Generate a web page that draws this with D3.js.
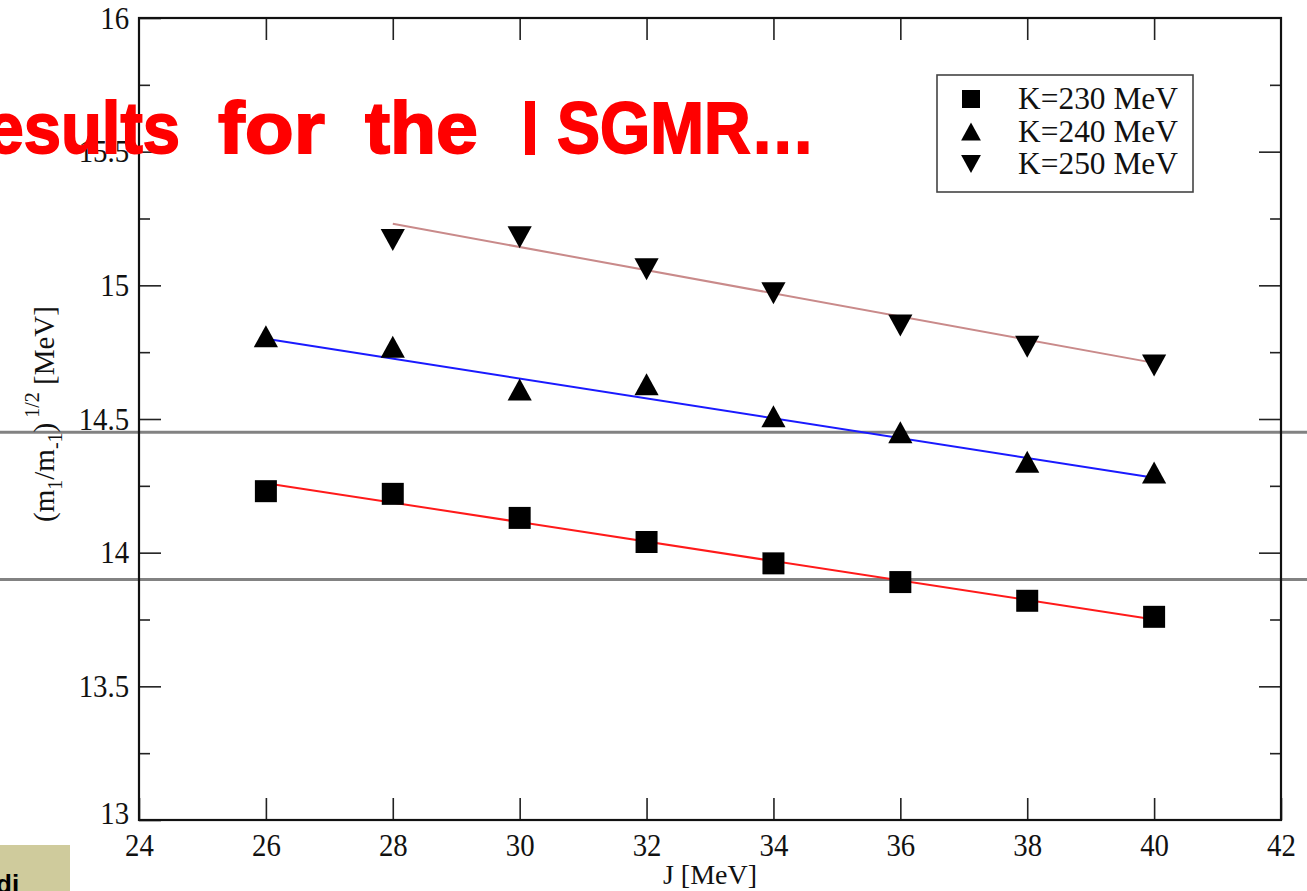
<!DOCTYPE html>
<html>
<head>
<meta charset="utf-8">
<script src="https://cdn.jsdelivr.net/npm/d3@7"></script>
<style>
  html, body { margin: 0; padding: 0; background: #fff; }
  svg { display: block; }
  .tick text { font-family: "Liberation Serif", "Times New Roman", serif; fill: #111; }
</style>
</head>
<body>
<svg id="chart" width="1307" height="891"></svg>
<script>
// Incompressibility scan: centroid energy vs symmetry energy J
const jValues = [26, 28, 30, 32, 34, 36, 38, 40];
const jValues250 = [28, 30, 32, 34, 36, 38, 40];
const k230 = [14.23, 14.22, 14.13, 14.04, 13.96, 13.89, 13.82, 13.76];
const k240 = [14.81, 14.77, 14.61, 14.63, 14.51, 14.45, 14.34, 14.30];
const k250 = [15.17, 15.18, 15.06, 14.97, 14.85, 14.77, 14.70];

// Linear fits (end points)
const fitJ230 = [26, 40], fit230 = [14.26, 13.75];
const fitJ240 = [26, 40], fit240 = [14.80, 14.28];
const fitJ250 = [28, 40], fit250 = [15.23, 14.71];

// Experimental reference levels
const refLevels = [14.45, 13.90];

const xTicks = [24, 26, 28, 30, 32, 34, 36, 38, 40, 42];
const yTicks = [13, 13.5, 14, 14.5, 15, 15.5, 16];
const yMinor = [13.25, 13.75, 14.25, 14.75, 15.25, 15.75];
const legendLabels = ["K=230 MeV", "K=240 MeV", "K=250 MeV"];

const svg = d3.select("#chart");
const W = 1307;
const x = d3.scaleLinear().domain([24, 42]).range([139, 1281]);
const y = d3.scaleLinear().domain([13, 16]).range([820, 18]);

// symbol shapes centred on their bounding box
function symbolPath(kind, s) {
  if (kind === "square") return `M${-s},${-s}H${s}V${s}H${-s}Z`;
  const w = s * 1.1;
  if (kind === "up") return `M0,${-s}L${w},${s}L${-w},${s}Z`;
  return `M0,${s}L${w},${-s}L${-w},${-s}Z`;
}

// reference levels across the whole slide
svg.append("g").selectAll("line").data(refLevels).join("line")
  .attr("x1", 0).attr("x2", W)
  .attr("y1", d => y(d)).attr("y2", d => y(d))
  .attr("stroke", "#828282").attr("stroke-width", 3);

// axes
function styleAxis(g, labelled) {
  g.select(".domain").remove();
  g.selectAll(".tick line").attr("stroke", "#222").attr("stroke-width", 1.6);
  if (!labelled) g.selectAll(".tick text").remove();
}
const fmt = d => String(d);

const gB = svg.append("g").attr("transform", `translate(0,${y(13)})`)
  .call(d3.axisBottom(x).tickValues(xTicks).tickSize(-22).tickPadding(6).tickFormat(fmt));
styleAxis(gB, true);
gB.selectAll(".tick text").attr("font-size", 32).attr("dy", "0.93em")
  .attr("transform", "scale(0.9,1)");

const gT = svg.append("g").attr("transform", `translate(0,${y(16)})`)
  .call(d3.axisTop(x).tickValues(xTicks.slice(1, -1)).tickSize(-22).tickFormat(fmt));
styleAxis(gT, false);

const gL = svg.append("g").attr("transform", `translate(${x(24)},0)`)
  .call(d3.axisLeft(y).tickValues(yTicks).tickSize(-22).tickPadding(11).tickFormat(fmt));
styleAxis(gL, true);
gL.selectAll(".tick text").attr("font-size", 32).attr("transform", "scale(0.9,1)");
gL.selectAll(".tick").filter(d => d === 13).select("text").attr("dy", "0.1em");

const gLm = svg.append("g").attr("transform", `translate(${x(24)},0)`)
  .call(d3.axisLeft(y).tickValues(yMinor).tickSize(-11));
styleAxis(gLm, false);

const gR = svg.append("g").attr("transform", `translate(${x(42)},0)`)
  .call(d3.axisRight(y).tickValues(yTicks.slice(1, -1)).tickSize(-22));
styleAxis(gR, false);
const gRm = svg.append("g").attr("transform", `translate(${x(42)},0)`)
  .call(d3.axisRight(y).tickValues(yMinor).tickSize(-11));
styleAxis(gRm, false);

// frame
svg.append("rect")
  .attr("x", x(24)).attr("y", y(16))
  .attr("width", x(42) - x(24)).attr("height", y(13) - y(16))
  .attr("fill", "none").attr("stroke", "#111").attr("stroke-width", 2.2);

// fit lines
const fits = [
  { j: fitJ230, v: fit230, color: "#ff1a1a" },
  { j: fitJ240, v: fit240, color: "#1a1aff" },
  { j: fitJ250, v: fit250, color: "#c98a8a" }
];
svg.append("g").selectAll("line").data(fits).join("line")
  .attr("x1", d => x(d.j[0])).attr("y1", d => y(d.v[0]))
  .attr("x2", d => x(d.j[1])).attr("y2", d => y(d.v[1]))
  .attr("stroke", d => d.color).attr("stroke-width", 2);

// data points
const series = [
  { j: jValues, v: k230, kind: "square", s: 11 },
  { j: jValues, v: k240, kind: "up", s: 11 },
  { j: jValues250, v: k250, kind: "down", s: 11 }
];
series.forEach(sr => {
  svg.append("g").selectAll("path").data(sr.v).join("path")
    .attr("transform", (d, i) => `translate(${x(sr.j[i])},${y(d)})`)
    .attr("d", symbolPath(sr.kind, sr.s))
    .attr("fill", "#000");
});

// legend
const leg = svg.append("g");
leg.append("rect").attr("x", 937).attr("y", 75).attr("width", 256).attr("height", 117)
  .attr("fill", "#fff").attr("stroke", "#444").attr("stroke-width", 1.6);
const kinds = ["square", "up", "down"];
legendLabels.forEach((lab, i) => {
  const cy = 99 + i * 32.5;
  leg.append("path").attr("transform", `translate(971,${cy})`)
    .attr("d", symbolPath(kinds[i], 9)).attr("fill", "#000");
  leg.append("text").attr("x", 1018).attr("y", cy + 10)
    .attr("font-family", "Liberation Serif, serif").attr("font-size", 31)
    .attr("textLength", 160).attr("lengthAdjust", "spacingAndGlyphs")
    .attr("fill", "#111").text(lab);
});

// axis titles
svg.append("text").attr("x", 710).attr("y", 884).attr("text-anchor", "middle")
  .attr("font-family", "Liberation Serif, serif").attr("font-size", 28).attr("fill", "#111")
  .text("J [MeV]");

const yl = svg.append("text")
  .attr("transform", "translate(54,414) rotate(-90)")
  .attr("text-anchor", "middle")
  .attr("font-family", "Liberation Serif, serif").attr("font-size", 29).attr("fill", "#111");
yl.append("tspan").text("(m");
yl.append("tspan").attr("dy", 8).attr("font-size", 20).text("1");
yl.append("tspan").attr("dy", -8).text("/m");
yl.append("tspan").attr("dy", 8).attr("font-size", 20).text("-1");
yl.append("tspan").attr("dy", -8).text(")");
yl.append("tspan").attr("dy", -15).attr("dx", 5).attr("font-size", 20).text("1/2");
yl.append("tspan").attr("dy", 15).text(" [MeV]");

// slide title
const titleWords = [
  { t: "Results", x: -62, len: 242, sw: 1.8 },
  { t: "for", x: 218, len: 107, sw: 1.8 },
  { t: "the", x: 365, len: 113, sw: 1.8 },
  { t: "I", x: 523, len: 14, sw: 4 },
  { t: "SGMR…", x: 557, len: 258, sw: 1.8 }
];
svg.append("g").selectAll("text").data(titleWords).join("text")
  .attr("x", d => d.x).attr("y", 153)
  .attr("textLength", d => d.len).attr("lengthAdjust", "spacingAndGlyphs")
  .attr("font-family", "Liberation Sans, Arial, sans-serif").attr("font-weight", "bold")
  .attr("font-size", 73).attr("fill", "#ff0000")
  .attr("stroke", "#ff0000").attr("stroke-width", d => d.sw)
  .text(d => d.t);

// corner logo fragment
svg.append("rect").attr("x", 0).attr("y", 845).attr("width", 70).attr("height", 46)
  .attr("fill", "#cfcb9c");
svg.append("text").attr("x", -4).attr("y", 893)
  .attr("font-family", "Liberation Sans, sans-serif").attr("font-weight", "bold")
  .attr("font-size", 26).attr("fill", "#000").text("di");
</script>
</body>
</html>
